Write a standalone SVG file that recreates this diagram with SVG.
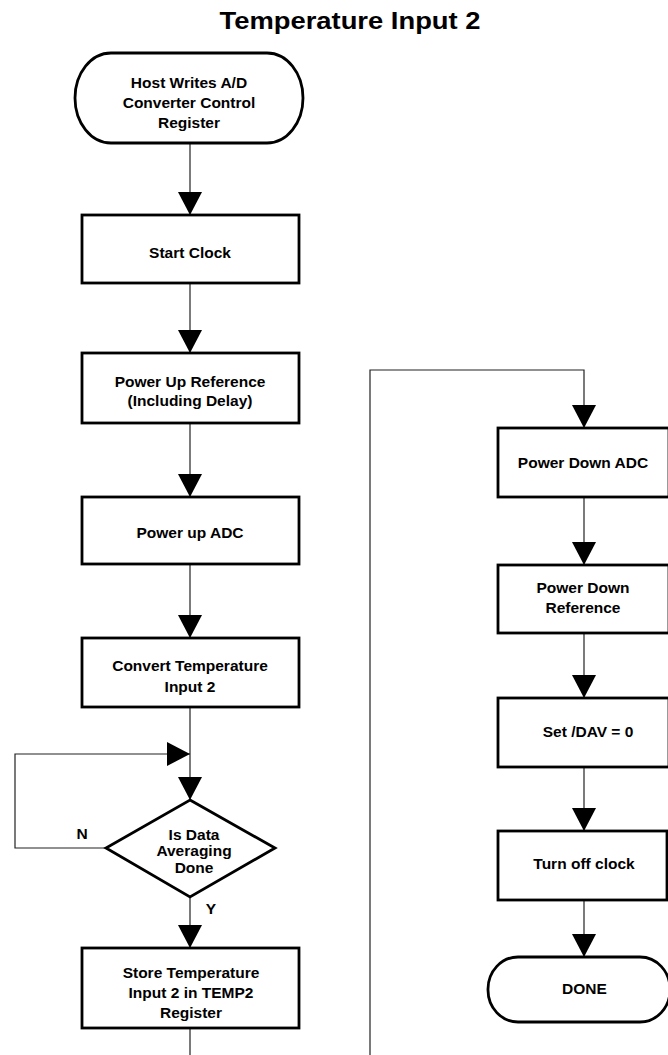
<svg xmlns="http://www.w3.org/2000/svg" width="668" height="1055" viewBox="0 0 668 1055">
<defs>
<marker id="ah" markerUnits="userSpaceOnUse" markerWidth="23" markerHeight="24" refX="23" refY="12" orient="auto">
<path d="M0,0 L23,12 L0,24 z" fill="#000"/>
</marker>
<style>
.box{fill:#fff;stroke:#000;stroke-width:2.8}
.t{font-family:"Liberation Sans",Arial,sans-serif;font-weight:bold;font-size:15.5px;fill:#000;text-anchor:middle}
.c{fill:none;stroke:#222;stroke-width:1.2}
</style>
</defs>
<rect width="668" height="1055" fill="#fff"/>
<text x="350" y="29" font-family="'Liberation Sans',Arial,sans-serif" font-weight="bold" font-size="23.5" text-anchor="middle" textLength="261" lengthAdjust="spacingAndGlyphs">Temperature Input 2</text>

<g id="connectors">
<path class="c" d="M190,143 V215" marker-end="url(#ah)"/>
<path class="c" d="M190,283 V353" marker-end="url(#ah)"/>
<path class="c" d="M190,423 V497" marker-end="url(#ah)"/>
<path class="c" d="M190,564 V638" marker-end="url(#ah)"/>
<path class="c" d="M190,707 V800" marker-end="url(#ah)"/>
<path class="c" d="M106,848 H15 V754 H190" marker-end="url(#ah)"/>
<path class="c" d="M190,897 V948" marker-end="url(#ah)"/>
<path class="c" d="M190,1028 V1070 H370 V370 H584 V428" marker-end="url(#ah)"/>
<path class="c" d="M584,497 V565" marker-end="url(#ah)"/>
<path class="c" d="M584,633 V698" marker-end="url(#ah)"/>
<path class="c" d="M584,767 V831" marker-end="url(#ah)"/>
<path class="c" d="M584,900 V957" marker-end="url(#ah)"/>
<text class="t" x="82" y="839">N</text>
<text class="t" x="211" y="914">Y</text>
</g>

<g id="start">
<rect class="box" x="75" y="53" width="228" height="90" rx="36" ry="45"/>
<text class="t" x="189" y="88">Host Writes A/D</text>
<text class="t" x="189" y="108">Converter Control</text>
<text class="t" x="189" y="128">Register</text>
</g>
<g id="startClock">
<rect class="box" x="82" y="215" width="217" height="68"/>
<text class="t" x="190" y="257.5">Start Clock</text>
</g>
<g id="powerUpRef">
<rect class="box" x="82" y="353" width="217" height="70"/>
<text class="t" x="190" y="386.5">Power Up Reference</text>
<text class="t" x="190" y="405.5">(Including Delay)</text>
</g>
<g id="powerUpADC">
<rect class="box" x="82" y="497" width="217" height="67"/>
<text class="t" x="190" y="538">Power up ADC</text>
</g>
<g id="convert">
<rect class="box" x="82" y="638" width="217" height="69"/>
<text class="t" x="190" y="670.5">Convert Temperature</text>
<text class="t" x="190" y="691.5">Input 2</text>
</g>
<g id="decision">
<path class="box" d="M190,800 L275,848 L190,897 L106,848 z"/>
<text class="t" x="194" y="839.5">Is Data</text>
<text class="t" x="194" y="855.5">Averaging</text>
<text class="t" x="194" y="872.5">Done</text>
</g>
<g id="store">
<rect class="box" x="82" y="948" width="217" height="80"/>
<text class="t" x="191" y="977.5">Store Temperature</text>
<text class="t" x="191" y="997.5">Input 2 in TEMP2</text>
<text class="t" x="191" y="1017.5">Register</text>
</g>
<g id="powerDownADC">
<rect class="box" x="498" y="428" width="171" height="69"/>
<text class="t" x="583" y="467.5">Power Down ADC</text>
</g>
<g id="powerDownRef">
<rect class="box" x="498" y="565" width="171" height="68"/>
<text class="t" x="583" y="592.5">Power Down</text>
<text class="t" x="583" y="612.5">Reference</text>
</g>
<g id="setDAV">
<rect class="box" x="498" y="698" width="171" height="69"/>
<text class="t" x="588" y="736.5">Set /DAV = 0</text>
</g>
<g id="turnOffClock">
<rect class="box" x="498" y="831" width="169" height="69"/>
<text class="t" x="584" y="868.5">Turn off clock</text>
</g>
<g id="done">
<rect class="box" x="488" y="957" width="182" height="65" rx="30" ry="32"/>
<text class="t" x="584.5" y="993.5">DONE</text>
</g>
</svg>
